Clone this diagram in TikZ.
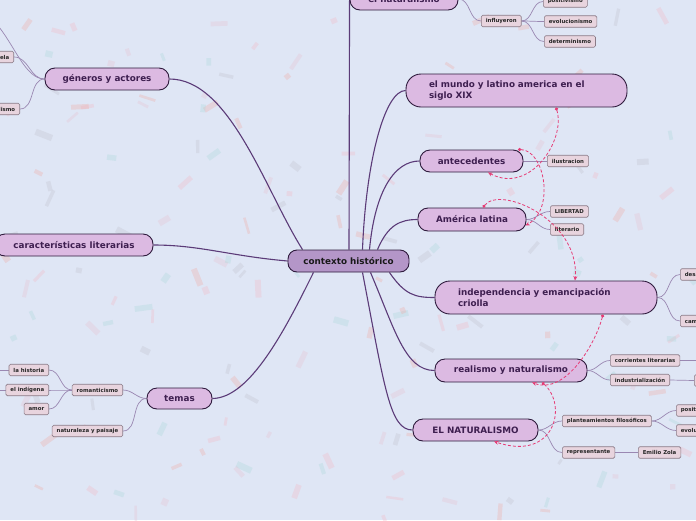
\documentclass[tikz,border=0pt]{standalone}
\usepackage{fontspec}
\setmainfont{DejaVu Sans}
\usetikzlibrary{arrows.meta}
\definecolor{bg}{HTML}{DFE6F5}
\definecolor{mainfill}{HTML}{DCBAE2}
\definecolor{centfill}{HTML}{B496C8}
\definecolor{mainline}{HTML}{2E1A3C}
\definecolor{maintext}{HTML}{3E1F50}
\definecolor{conn}{HTML}{5B3B78}
\definecolor{thin}{HTML}{9A88B2}
\definecolor{subfill}{HTML}{E8D4DE}
\definecolor{subline}{HTML}{8A7A86}
\definecolor{rel}{HTML}{E63C76}
\definecolor{confetti0}{HTML}{F4B6C2}
\definecolor{confetti1}{HTML}{F0A8A0}
\definecolor{confetti2}{HTML}{A8D8D8}
\definecolor{confetti3}{HTML}{C0C0CC}
\definecolor{confetti4}{HTML}{E8C0D0}
\pgfdeclarelayer{back}
\pgfdeclarelayer{edges}
\pgfsetlayers{back,edges,main}
\tikzset{
 mainbox/.style={draw=mainline, fill=mainfill, line width=0.9pt, rounded corners=10pt,
   font=\fontsize{8.8}{10.5}\selectfont\bfseries, text=maintext, inner sep=0pt},
 centbox/.style={mainbox, fill=centfill, text=black!90, rounded corners=9pt},
 subbox/.style={draw=subline, fill=subfill, line width=0.6pt, rounded corners=1.5pt,
   font=\fontsize{5.4}{6}\selectfont\bfseries, text=black!85, inner xsep=4.5pt, inner ysep=0pt,
   minimum height=11.5pt},
 branch/.style={draw=conn, line width=1.1pt},
 twig/.style={draw=thin, line width=0.7pt},
 relation/.style={draw=rel, line width=0.8pt, dash pattern=on 3pt off 2pt,
   {Circle[length=3.2pt]}-{Stealth[length=4.5pt,width=4pt]}},
}
\begin{document}
\begin{tikzpicture}[x=1pt,y=-1pt]
\clip (0,0) rectangle (696,520);
\begin{pgfonlayer}{back}
\fill[bg] (0,0) rectangle (696,520);
\pgfmathsetseed{12}
\foreach \i in {1,...,170}{
 \pgfmathsetmacro\cx{rnd*696}
 \pgfmathsetmacro\cy{rnd*520}
 \pgfmathsetmacro\ang{rnd*180}
 \pgfmathsetmacro\w{5+rnd*13}
 \pgfmathsetmacro\h{2.5+rnd*4}
 \pgfmathtruncatemacro\c{mod(\i,5)}
 \fill[confetti\c, opacity=0.3, rotate around={\ang:(\cx,\cy)}] (\cx-\w/2,\cy-\h/2) rectangle (\cx+\w/2,\cy+\h/2);
}
\end{pgfonlayer}

% main nodes
\node[centbox, minimum width=121pt, minimum height=22pt] (central) at (348.5,261) {contexto histórico};
\node[mainbox, minimum width=158pt, minimum height=22pt] (caract) at (74,245) {características literarias};
\node[mainbox, minimum width=124pt, minimum height=22pt] (generos) at (107,79) {géneros y actores};
\node[mainbox, minimum width=65pt, minimum height=21pt] (temas) at (179.5,398.5) {temas};
\node[mainbox, minimum width=108pt, minimum height=22pt] (natur) at (404,-1) {el naturalismo};
\node[mainbox, rounded corners=15pt, minimum height=33pt, text width=175pt, inner xsep=23pt, align=left] (mundo) at (516.5,90.5) {el mundo y latino america en el\\siglo XIX};
\node[mainbox, minimum width=103pt, minimum height=22pt] (antec) at (471.5,161) {antecedentes};
\node[mainbox, minimum width=108pt, minimum height=23pt] (america) at (472,219.5) {América latina};
\node[mainbox, rounded corners=15pt, minimum height=33pt, text width=176pt, inner xsep=23pt, align=left] (indep) at (546,297.5) {independencia y emancipación\\criolla};
\node[mainbox, minimum width=152pt, minimum height=23pt] (realismo) at (511,370.5) {realismo y naturalismo};
\node[mainbox, minimum width=125pt, minimum height=22pt] (elnat) at (475.5,430) {EL NATURALISMO};

% sub nodes
\node[subbox, anchor=west] (infl) at (481,21) {influyeron};
\node[subbox, anchor=west] (posit) at (543,1.5) {positivismo};
\node[subbox, anchor=west] (evol) at (544,21.5) {evolucionismo};
\node[subbox, anchor=west] (deter) at (544,41.5) {determinismo};
\node[subbox, anchor=west] (ilus) at (547,161) {ilustracion};
\node[subbox, anchor=west] (libert) at (550,211.5) {LIBERTAD};
\node[subbox, anchor=west] (liter) at (550,229.5) {literario};
\node[subbox, anchor=west] (desa) at (680,274.5) {desarrollo};
\node[subbox, anchor=west] (camb) at (680,321) {cambios};
\node[subbox, anchor=west] (corr) at (610,360.5) {corrientes literarias};
\node[subbox, anchor=west] (indus) at (610,380) {industrialización};
\node[subbox, anchor=west] (capit) at (694,380.5) {capitalismo};
\coordinate (corrend) at (700,360.5);
\node[subbox, anchor=west] (plant) at (562,421) {planteamientos filosóficos};
\node[subbox, anchor=west] (posit2) at (676,410.5) {positivismo};
\node[subbox, anchor=west] (evol2) at (676,430.5) {evolucionismo};
\node[subbox, anchor=west] (repr) at (562,452.5) {representante};
\node[subbox, anchor=west] (zola) at (638,452.5) {Emilio Zola};
\node[subbox, anchor=east] (roman) at (123,390) {romanticismo};
\node[subbox, anchor=east] (natpai) at (123,431) {naturaleza y paisaje};
\node[subbox, anchor=east] (hist) at (49,370) {la historia};
\node[subbox, anchor=east] (indig) at (49,390) {el indígena};
\node[subbox, anchor=east] (amor) at (49,409) {amor};
\node[subbox, anchor=east] (novela) at (14,57) {novela};
\node[subbox, anchor=east] (criol) at (20,109) {criollismo};
\coordinate (histend) at (-5,370);
\coordinate (indigend) at (-5,390);
\coordinate (genup) at (-5,22);

\begin{pgfonlayer}{edges}
% main branches
\draw[branch] ([xshift=-46pt]central.north) .. controls (265,190) and (230,79) .. (generos.east);
\draw[branch] (central.west) .. controls (230,256) and (200,245) .. (caract.east);
\draw[branch] ([xshift=-35pt]central.south) .. controls (285,330) and (250,398) .. (temas.east);
\draw[branch] ([xshift=0.5pt]central.north) -- (natur.west);
\draw[branch] ([xshift=14pt]central.north) .. controls (366,160) and (385,90.5) .. (mundo.west);
\draw[branch] ([xshift=21pt]central.north) .. controls (375,190) and (395,161) .. (antec.west);
\draw[branch] ([xshift=29pt]central.north) .. controls (388,225) and (400,219.5) .. (america.west);
\draw[branch] ([xshift=-20pt]central.south east) .. controls (405,295) and (415,297.5) .. (indep.west);
\draw[branch] ([xshift=22pt]central.south) .. controls (395,330) and (405,370.5) .. (realismo.west);
\draw[branch] ([xshift=14pt]central.south) .. controls (385,390) and (390,430) .. (elnat.west);
% twigs
\draw[twig] (natur.east) to[out=0,in=180] (infl.west);
\draw[twig] (infl.east) to[out=0,in=180] (posit.west);
\draw[twig] (infl.east) to[out=0,in=180] (evol.west);
\draw[twig] (infl.east) to[out=0,in=180] (deter.west);
\draw[twig] (antec.east) -- (ilus.west);
\draw[twig] (america.east) to[out=0,in=180] (libert.west);
\draw[twig] (america.east) to[out=0,in=180] (liter.west);
\draw[twig] (indep.east) to[out=0,in=180] (desa.west);
\draw[twig] (indep.east) to[out=0,in=180] (camb.west);
\draw[twig] (realismo.east) to[out=0,in=180] (corr.west);
\draw[twig] (realismo.east) to[out=0,in=180] (indus.west);
\draw[twig] (corr.east) -- (corrend);
\draw[twig] (indus.east) -- (capit.west);
\draw[twig] (elnat.east) to[out=0,in=180] (plant.west);
\draw[twig] (elnat.east) to[out=0,in=180] (repr.west);
\draw[twig] (plant.east) to[out=0,in=180] (posit2.west);
\draw[twig] (plant.east) to[out=0,in=180] (evol2.west);
\draw[twig] (repr.east) -- (zola.west);
\draw[twig] (generos.west) to[out=180,in=0] (novela.east);
\draw[twig] (generos.west) to[out=180,in=0] (criol.east);
\draw[twig] (generos.west) .. controls (25,79) and (15,45) .. (genup);
\draw[twig] (temas.west) to[out=180,in=0] (roman.east);
\draw[twig] (temas.west) to[out=180,in=0] (natpai.east);
\draw[twig] (roman.west) to[out=180,in=0] (hist.east);
\draw[twig] (roman.west) to[out=180,in=0] (indig.east);
\draw[twig] (roman.west) to[out=180,in=0] (amor.east);
\draw[twig] (hist.west) -- (histend);
\draw[twig] (indig.west) -- (indigend);
\end{pgfonlayer}

% relations
\draw[relation] ([xshift=39.5pt]mundo.south) .. controls (566,140) and (530,195) .. ([xshift=16.5pt]antec.south);
\draw[relation] ([xshift=46.5pt]antec.north) .. controls (545,150) and (555,210) .. ([xshift=-1pt,yshift=-6pt]america.east);
\draw[relation] ([xshift=11pt]america.north) .. controls (500,185) and (580,220) .. ([xshift=29pt]indep.north);
\draw[relation] ([xshift=57pt]indep.south) .. controls (595,345) and (565,395) .. ([xshift=21pt]realismo.south);
\draw[relation] ([xshift=31pt]realismo.south) .. controls (568,405) and (555,462) .. ([xshift=18.5pt]elnat.south);
\end{tikzpicture}
\end{document}
